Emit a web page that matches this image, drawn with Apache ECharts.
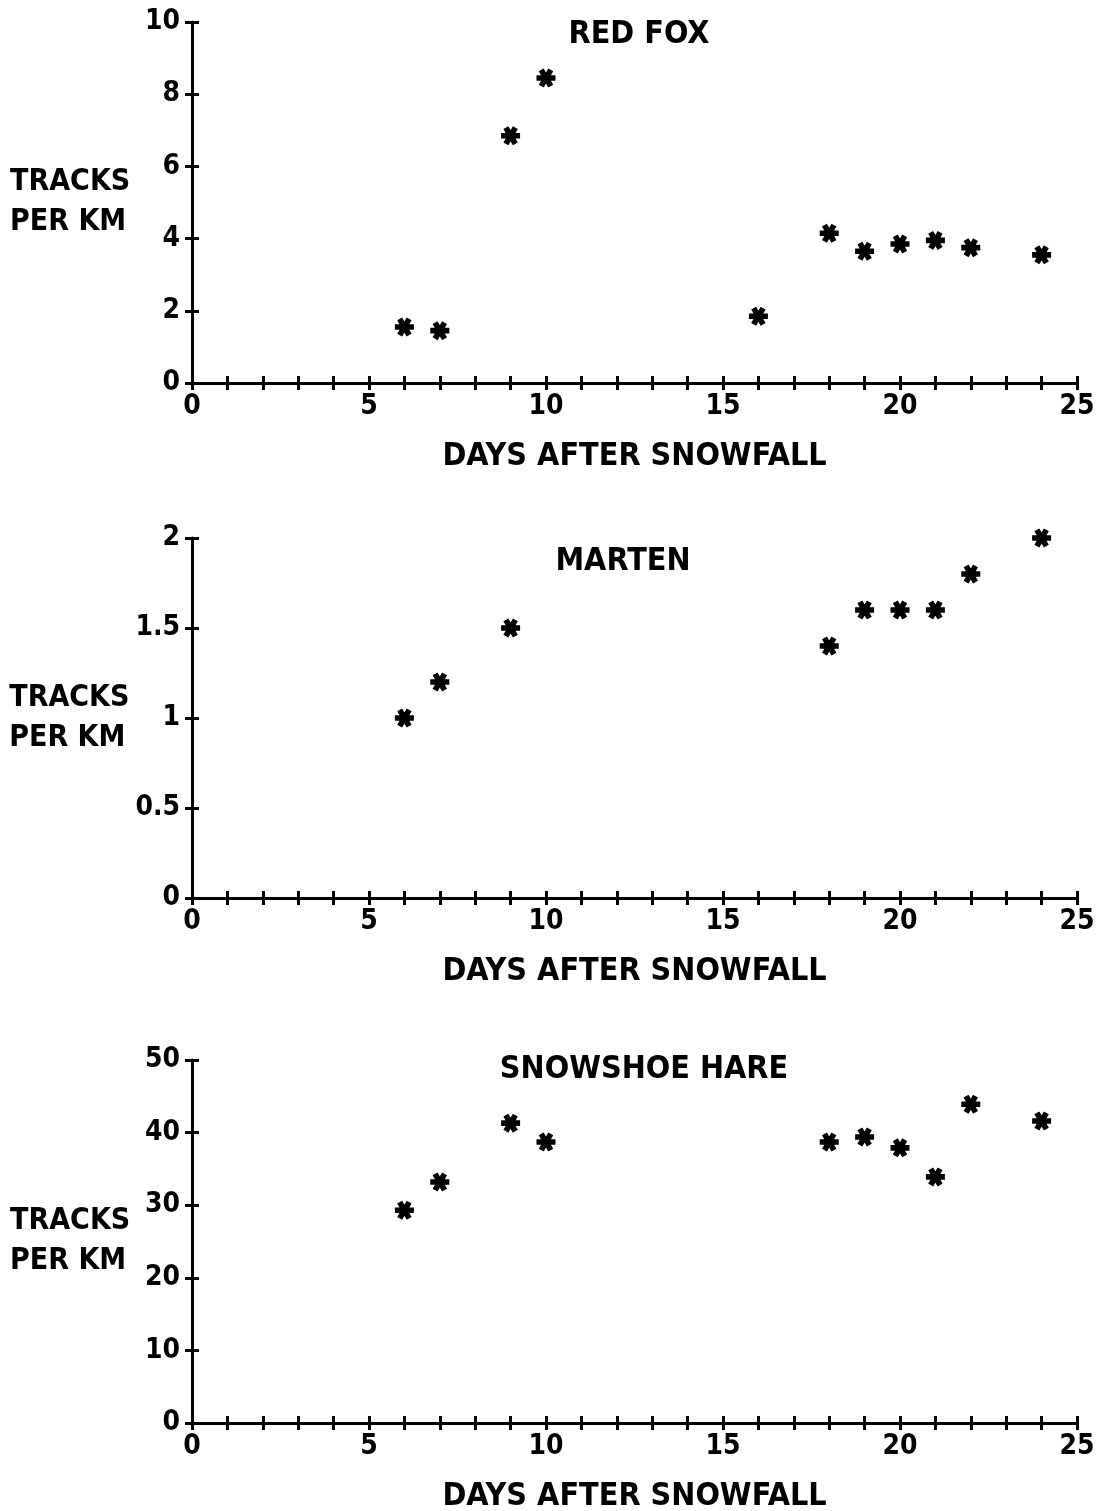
<!DOCTYPE html>
<html>
<head>
<meta charset="utf-8">
<script src="https://cdn.jsdelivr.net/npm/echarts@6/dist/echarts.min.js"></script>
<style>
  html, body { margin: 0; padding: 0; background: #fff; }
  #chart { width: 1103px; height: 1511px; }
</style>
</head>
<body>
<div id="chart"></div>
<script>
// data
var titles = ['RED FOX', 'MARTEN', 'SNOWSHOE HARE'];

var foxDays = [6, 7, 9, 10, 16, 18, 19, 20, 21, 22, 24];
var foxTracks = [1.55, 1.45, 6.85, 8.45, 1.85, 4.15, 3.65, 3.85, 3.95, 3.75, 3.55];

var martenDays = [6, 7, 9, 18, 19, 20, 21, 22, 24];
var martenTracks = [1.0, 1.2, 1.5, 1.4, 1.6, 1.6, 1.6, 1.8, 2.0];

var hareDays = [6, 7, 9, 10, 18, 19, 20, 21, 22, 24];
var hareTracks = [29.3, 33.2, 41.3, 38.7, 38.7, 39.4, 37.9, 33.9, 43.9, 41.6];

var yMax = [10, 2, 50];
var yStep = [2, 0.5, 10];

var FONT = '"DejaVu Sans Condensed", "Liberation Sans Narrow", sans-serif';

// asterisk: horizontal bar plus two bars at +-60 deg
var STAR = 'path://M-1,-0.3L1,-0.3L1,0.3L-1,0.3Z' +
    'M-0.24,-1.016L0.76,0.716L0.24,1.016L-0.76,-0.716Z' +
    'M-0.76,0.716L0.24,-1.016L0.76,-0.716L-0.24,1.016Z';

function pairs(xs, ys) {
	var out = [];
	for (var i = 0; i < xs.length; i++) out.push([xs[i], ys[i]]);
	return out;
}

var panelData = [pairs(foxDays, foxTracks), pairs(martenDays, martenTracks), pairs(hareDays, hareTracks)];
var gridTops = [22, 538, 1060];
var gridHeights = [361, 360, 363];
var titleTops = [19, 546, 1054];
var titleCenters = [639, 623, 644];

var grids = [], xAxes = [], yAxes = [], series = [], titleList = [];

for (var p = 0; p < 3; p++) {
	grids.push({ left: 192, right: 26, top: gridTops[p], height: gridHeights[p], outerBoundsMode: 'none', containLabel: false });

	titleList.push({
		text: titles[p],
		left: titleCenters[p],
		top: titleTops[p],
		textAlign: 'center',
		padding: 0,
		textStyle: { fontFamily: FONT, fontWeight: 'bold', fontSize: 32, color: '#000' }
	});

	// main axes: line, outside ticks, labels
	xAxes.push({
		gridIndex: p, type: 'value', min: 0, max: 25, interval: 1,
		position: 'bottom',
		name: 'DAYS AFTER SNOWFALL', nameLocation: 'middle', nameGap: 58,
		nameTextStyle: { fontFamily: FONT, fontWeight: 'bold', fontSize: 32, color: '#000' },
		axisLine: { onZero: false, lineStyle: { color: '#000', width: 3 } },
		axisTick: { inside: false, length: 7, lineStyle: { color: '#000', width: 3 } },
		axisLabel: {
			margin: 10, color: '#000', fontFamily: FONT, fontWeight: 'bold', fontSize: 28,
			formatter: function (v) { return v % 5 === 0 ? String(v) : ''; }
		},
		splitLine: { show: false }
	});
	// second copy for inside tick halves
	xAxes.push({
		gridIndex: p, type: 'value', min: 0, max: 25, interval: 1,
		position: 'bottom',
		axisLine: { show: false, onZero: false },
		axisTick: { inside: true, length: 7, lineStyle: { color: '#000', width: 3 } },
		axisLabel: { show: false },
		splitLine: { show: false }
	});

	yAxes.push({
		gridIndex: p, type: 'value', min: 0, max: yMax[p], interval: yStep[p],
		position: 'left',
		name: 'TRACKS\nPER KM', nameLocation: 'middle', nameRotate: 0, nameGap: 62,
		nameTextStyle: {
			fontFamily: FONT, fontWeight: 'bold', fontSize: 30, color: '#000',
			lineHeight: 40, align: 'left', padding: [0, 0, 0, -120]
		},
		axisLine: { onZero: false, lineStyle: { color: '#000', width: 3 } },
		axisTick: { inside: false, length: 7, lineStyle: { color: '#000', width: 3 } },
		axisLabel: { margin: 12, color: '#000', fontFamily: FONT, fontWeight: 'bold', fontSize: 28 },
		splitLine: { show: false }
	});
	yAxes.push({
		gridIndex: p, type: 'value', min: 0, max: yMax[p], interval: yStep[p],
		position: 'left',
		axisLine: { show: false, onZero: false },
		axisTick: { inside: true, length: 7, lineStyle: { color: '#000', width: 3 } },
		axisLabel: { show: false },
		splitLine: { show: false }
	});

	series.push({
		name: titles[p],
		type: 'scatter',
		xAxisIndex: p * 2,
		yAxisIndex: p * 2,
		symbol: STAR,
		symbolSize: 19,
		itemStyle: { color: '#000', opacity: 1 },
		data: panelData[p]
	});
}

var chartObj = echarts.init(document.getElementById('chart'));
var option = {
	backgroundColor: '#fff',
	animation: false,
	title: titleList,
	grid: grids,
	xAxis: xAxes,
	yAxis: yAxes,
	series: series
};
chartObj.setOption(option);
</script>
</body>
</html>
